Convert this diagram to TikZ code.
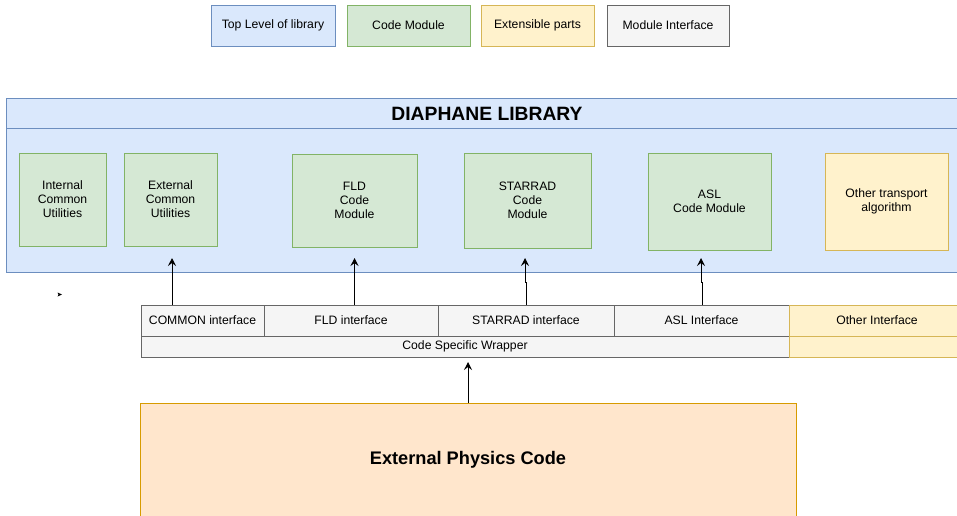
\documentclass[tikz,border=0pt]{standalone}
\usepackage{fontspec}
\setmainfont{Liberation Sans}
\usetikzlibrary{arrows.meta}

\definecolor{blueFill}{HTML}{DAE8FC}
\definecolor{blueLine}{HTML}{6C8EBF}
\definecolor{greenFill}{HTML}{D5E8D4}
\definecolor{greenLine}{HTML}{82B366}
\definecolor{yellowFill}{HTML}{FFF2CC}
\definecolor{yellowLine}{HTML}{D6B656}
\definecolor{grayFill}{HTML}{F5F5F5}
\definecolor{grayLine}{HTML}{666666}
\definecolor{orangeFill}{HTML}{FFE6CC}
\definecolor{orangeLine}{HTML}{D79B00}

% box from top-left (x1,y1) to bottom-right (x2,y2)
\newcommand\mkbox[7]{%
  \node[#2, minimum width={#5-#3}, minimum height={#6-#4}] (#1) at (#3,#4) {#7};}

\begin{document}
\begin{tikzpicture}[x=1pt, y=-1pt,
  base/.style={draw, line width=1pt, inner sep=0pt, outer sep=0pt,
    anchor=north west, align=center, font=\fontsize{12.2}{14}\selectfont},
  toplevel/.style={base, fill=blueFill, draw=blueLine},
  module/.style={base, fill=greenFill, draw=greenLine},
  extensible/.style={base, fill=yellowFill, draw=yellowLine},
  iface/.style={base, fill=grayFill, draw=grayLine},
  physics/.style={base, fill=orangeFill, draw=orangeLine},
  arr/.style={line width=1pt, -{Stealth[length=8pt, width=8pt, inset=3pt]}},
]
\useasboundingbox (0,0) rectangle (957,515);
\fill[white] (0,0) rectangle (957,515);

\begin{scope}
\clip (0,0) rectangle (957,515);

% legend
\mkbox{legTop}{toplevel}{211}{5}{335}{46}{Top Level of library}
\mkbox{legMod}{module}{347}{5}{470}{46}{Code Module}
\mkbox{legExt}{extensible}{481}{5}{594}{46}{Extensible parts}
\mkbox{legIf}{iface}{607}{5}{729}{46}{Module Interface}

% library frame with header band
\mkbox{lib}{toplevel}{6}{98}{962}{272}{}
\draw[blueLine, line width=1pt] (lib.west |- 0,128) -- (lib.east |- 0,128);
\node[font=\fontsize{19.3}{22}\selectfont\bfseries] (libTitle) at (487,113.5) {DIAPHANE LIBRARY};

% code modules
\mkbox{intCom}{module}{19}{153}{106}{246}{Internal\\Common\\Utilities}
\mkbox{extCom}{module}{124}{153}{217}{246}{External\\Common\\Utilities}
\mkbox{fld}{module}{292}{154}{417}{247}{FLD\\Code\\Module}
\mkbox{starrad}{module}{464}{153}{591}{248}{STARRAD\\Code\\Module}
\mkbox{asl}{module}{648}{153}{771}{250}{ASL\\Code Module}
\mkbox{other}{extensible}{825}{153}{948}{250}{Other transport\\algorithm}

% interfaces and wrapper
\mkbox{comIf}{iface}{141}{305}{264}{336}{COMMON interface}
\mkbox{fldIf}{iface}{264}{305}{438}{336}{FLD interface}
\mkbox{starIf}{iface}{438}{305}{614}{336}{STARRAD interface}
\mkbox{aslIf}{iface}{614}{305}{789}{336}{ASL Interface}
\mkbox{otherIf}{extensible}{789}{305}{965}{336}{Other Interface}
\mkbox{wrapper}{iface}{141}{336}{789}{357}{Code Specific Wrapper}
\mkbox{otherWrap}{extensible}{789}{336}{965}{357}{}

% external code
\mkbox{phys}{physics}{140}{403}{796}{525}{}
\node[font=\fontsize{18.2}{21}\selectfont\bfseries] (physTitle) at (468,459.5) {External Physics Code};

% arrow tips
\coordinate (tipCom) at (172,258);
\coordinate (tipFld) at (354.5,258);
\coordinate (tipStar) at (525,258);
\coordinate (tipAsl) at (701,258);
\coordinate (tipWrap) at (468,362);

% connectors
\draw[arr] (comIf.north -| tipCom) -- (tipCom);
\draw[arr] (fldIf.north -| tipFld) -- (tipFld);
\draw[arr] (starIf.north -| 526,0) -- (526,282) -- (525,282) -- (tipStar);
\draw[arr] (aslIf.north -| 702,0) -- (702,282) -- (701,282) -- (tipAsl);
\draw[arr] (phys.north -| tipWrap) -- (tipWrap);

% stray marker
\fill (57.5,292.5) -- (62,294.5) -- (57.5,296.5) -- (58.5,294.5) -- cycle;
\end{scope}
\end{tikzpicture}
\end{document}
